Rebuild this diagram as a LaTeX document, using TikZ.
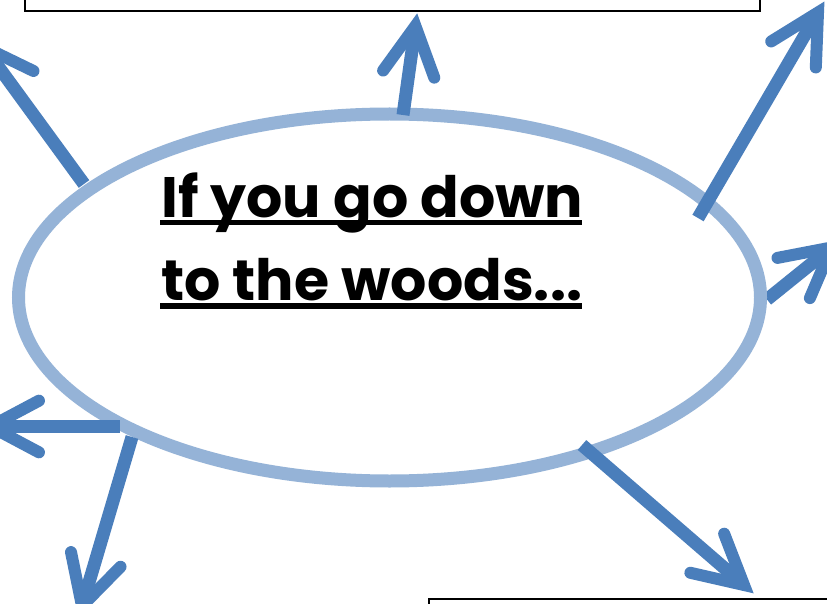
\documentclass[tikz,border=0pt]{standalone}
\usepackage{fontspec}
\newfontfamily\popfont{Poppins}
\usetikzlibrary{calc}
\definecolor{arrowblue}{HTML}{4A7EBB}
\definecolor{ovalblue}{HTML}{95B3D7}
\tikzset{
  shaft/.style={draw=arrowblue, line width=13pt, line cap=butt},
  barb/.style={draw=arrowblue, line width=12pt, line cap=round, line join=miter, miter limit=10},
  oval/.style={draw=ovalblue, line width=13pt},
  frame/.style={draw=black, line width=2pt},
  title/.style={anchor=base west, inner sep=0pt, font=\popfont\bfseries\fontsize{57}{60}\selectfont},
  uline/.style={draw=black, line width=5.5pt},
}
\newcommand\blockarrow[2]{%
  \draw[shaft, shorten >=6pt] (#1) -- (#2);
  \draw[barb] ($(#2)!55pt!28:(#1)$) -- (#2) -- ($(#2)!55pt!-28:(#1)$);
}
\begin{document}
\begin{tikzpicture}[x=1pt,y=-1pt]
  \useasboundingbox (0,0) rectangle (827,604);
  \clip (0,0) rectangle (827,604);
  \fill[white] (0,0) rectangle (827,604);
  % boxes
  \draw[frame] (25,-20) rectangle (760,11);
  \draw[frame] (429,599) rectangle (850,640);
  % arrow ends
  \coordinate (tTop) at (403,115);   \coordinate (hTop) at (415.4,26);
  \coordinate (tUL) at (84,184);     \coordinate (hUL) at (-16,47);
  \coordinate (tUR) at (698,218);    \coordinate (hUR) at (818,12.5);
  \coordinate (tR) at (767,299.5);   \coordinate (hR) at (831.5,247.5);
  \coordinate (tL) at (120,426.5);   \coordinate (hL) at (-9.6,426.5);
  \coordinate (tLL) at (132,437);    \coordinate (hLL) at (82,606);
  \coordinate (tLR) at (582,445);    \coordinate (hLR) at (744,585);
  \blockarrow{tR}{hR}
  % oval
  \draw[oval] (389.5,297.5) ellipse [x radius=371, y radius=183.5];
  \blockarrow{tTop}{hTop}
  \blockarrow{tUL}{hUL}
  \blockarrow{tUR}{hUR}
  \blockarrow{tL}{hL}
  \blockarrow{tLL}{hLL}
  \blockarrow{tLR}{hLR}
  % title
  \node[title] (line1) at (161,218) {If you go down};
  \node[title] (line2) at (161,300) {to the woods...};
  \draw[uline] (160,222.5) -- (582,222.5);
  \draw[uline] (160,306) -- (582,306);
\end{tikzpicture}
\end{document}
